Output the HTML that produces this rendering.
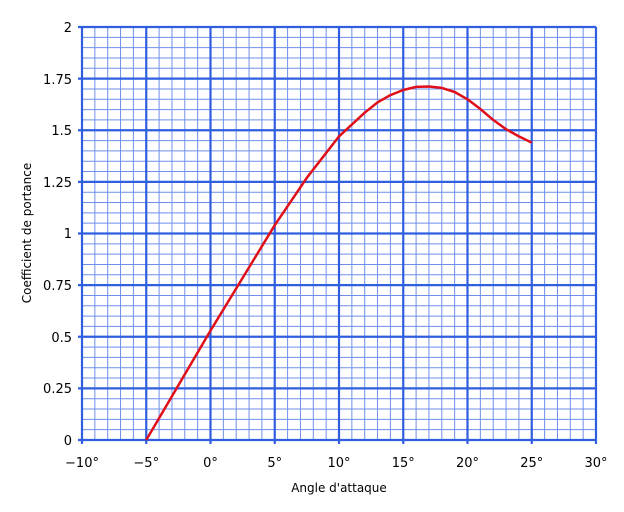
<!DOCTYPE html>
<html><head><style>body{margin:0;background:#fff}svg{display:block}</style></head><body>
<svg width="624" height="512" xmlns="http://www.w3.org/2000/svg" font-family="DejaVu Sans, Liberation Sans, sans-serif" font-size="13">
<path fill="none" stroke="#6f8fea" stroke-width="1" d="M94.85 27V440M107.7 27V440M120.55 27V440M133.4 27V440M159.1 27V440M171.95 27V440M184.8 27V440M197.65 27V440M223.35 27V440M236.2 27V440M249.05 27V440M261.9 27V440M287.6 27V440M300.45 27V440M313.3 27V440M326.15 27V440M351.85 27V440M364.7 27V440M377.55 27V440M390.4 27V440M416.1 27V440M428.95 27V440M441.8 27V440M454.65 27V440M480.35 27V440M493.2 27V440M506.05 27V440M518.9 27V440M544.6 27V440M557.45 27V440M570.3 27V440M583.15 27V440
M82 429.675H596M82 419.35H596M82 409.025H596M82 398.7H596M82 378.05H596M82 367.725H596M82 357.4H596M82 347.075H596M82 326.425H596M82 316.1H596M82 305.775H596M82 295.45H596M82 274.8H596M82 264.475H596M82 254.15H596M82 243.825H596M82 223.175H596M82 212.85H596M82 202.525H596M82 192.2H596M82 171.55H596M82 161.225H596M82 150.9H596M82 140.575H596M82 119.925H596M82 109.6H596M82 99.275H596M82 88.95H596M82 68.3H596M82 57.975H596M82 47.65H596M82 37.325H596"/>
<path fill="none" stroke="#2f5fe0" stroke-width="2.2" d="M82 27V444M146.25 27V444M210.5 27V444M274.75 27V444M339 27V444M403.25 27V444M467.5 27V444M531.75 27V444M596 27V444
M78 440H596M78 388.375H596M78 336.75H596M78 285.125H596M78 233.5H596M78 181.875H596M78 130.25H596M78 78.625H596M78 27H596"/>
<g text-anchor="middle">
<text x="82" y="467">−10°</text><text x="146.25" y="467">−5°</text><text x="210.5" y="467">0°</text><text x="274.75" y="467">5°</text><text x="339" y="467">10°</text><text x="403.25" y="467">15°</text><text x="467.5" y="467">20°</text><text x="531.75" y="467">25°</text><text x="596" y="467">30°</text>
</g>
<g text-anchor="end">
<text x="72" y="445">0</text><text x="72" y="393">0.25</text><text x="72" y="342">0.5</text><text x="72" y="290">0.75</text><text x="72" y="238">1</text><text x="72" y="187">1.25</text><text x="72" y="135">1.5</text><text x="72" y="84">1.75</text><text x="72" y="32">2</text>
</g>
<text x="339" y="492" text-anchor="middle" font-size="12">Angle d'attaque</text>
<text transform="translate(31,233) rotate(-90)" text-anchor="middle" font-size="12">Coefficient de portance</text>
<path fill="none" stroke="#e0101a" stroke-width="2.5" stroke-linejoin="round" d="M146.25,440L210.5,330.6L274.75,225.2L306.9,177.7L339,136.4L364.7,112.7L377.55,102.4L390.4,95.1L403.25,90L416.1,86.9L428.95,86.5L441.8,87.9L454.65,92L467.5,99.3L480.35,109L493.2,119.9L506.05,129.2L518.9,136.4L531.75,142.6"/>
</svg>
</body></html>
